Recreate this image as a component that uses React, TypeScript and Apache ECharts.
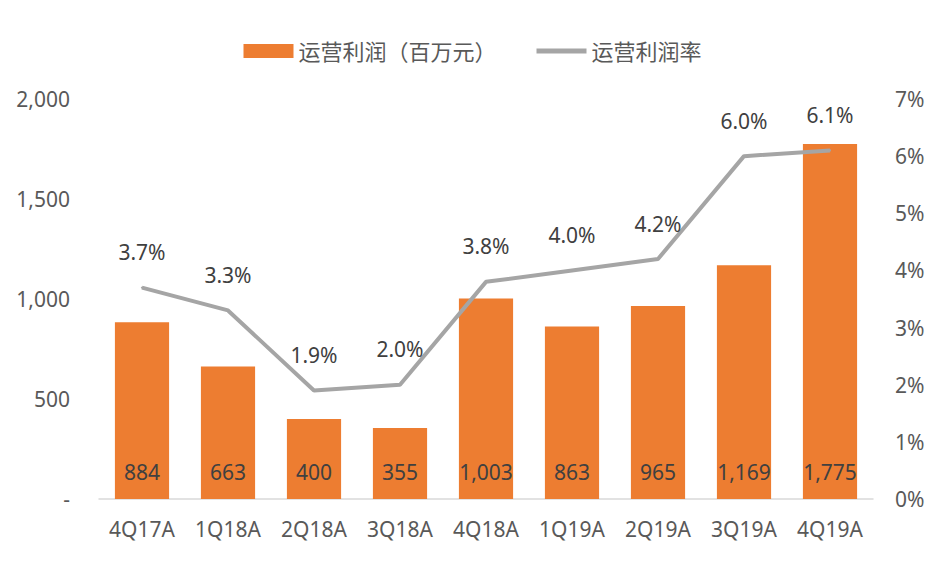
import React, { useEffect, useRef } from "react";
import * as echarts from "echarts";

const categories = ["4Q17A", "1Q18A", "2Q18A", "3Q18A", "4Q18A", "1Q19A", "2Q19A", "3Q19A", "4Q19A"];
const profit = [884, 663, 400, 355, 1003, 863, 965, 1169, 1775];
const margin = [3.7, 3.3, 1.9, 2.0, 3.8, 4.0, 4.2, 6.0, 6.1];
const barName = "运营利润（百万元）";
const lineName = "运营利润率";

const FONT = "'Noto Sans', 'Noto Sans CJK SC', sans-serif";

export default function App() {
  const ref = useRef<HTMLDivElement>(null);
  useEffect(() => {
    if (!ref.current) return;
    const chart = echarts.init(ref.current, undefined, { renderer: "svg" });
    chart.setOption({
      animation: false,
      backgroundColor: "#ffffff",
      textStyle: { fontFamily: FONT },
      legend: {
        top: 35,
        left: "center",
        itemWidth: 50,
        itemHeight: 14,
        itemGap: 40,
        textStyle: { fontSize: 22, color: "#595959", fontFamily: FONT },
        data: [
          { name: barName, icon: "rect" },
          { name: lineName, icon: "path://M0 0H50V5H0Z", itemStyle: { color: "#A5A5A5", opacity: 1 } },
        ],
      },
      grid: { left: 99, right: 72, top: 99, bottom: 75, containLabel: false },
      xAxis: {
        type: "category",
        data: categories,
        axisLine: { lineStyle: { color: "#d9d9d9", width: 1.5 } },
        axisTick: { show: false },
        axisLabel: { fontSize: 21, color: "#595959", margin: 19, fontFamily: FONT },
      },
      yAxis: [
        {
          type: "value",
          min: 0,
          max: 2000,
          interval: 500,
          splitLine: { show: false },
          axisLine: { show: false },
          axisTick: { show: false },
          axisLabel: {
            fontSize: 21,
            color: "#595959",
            margin: 29,
            fontFamily: FONT,
            formatter: (v: number) => (v === 0 ? "-" : v.toLocaleString("en-US")),
          },
        },
        {
          type: "value",
          min: 0,
          max: 7,
          interval: 1,
          splitLine: { show: false },
          axisLine: { show: false },
          axisTick: { show: false },
          axisLabel: {
            fontSize: 21,
            color: "#595959",
            margin: 22,
            fontFamily: FONT,
            formatter: (v: number) => v + "%",
          },
        },
      ],
      series: [
        {
          name: barName,
          type: "bar",
          data: profit,
          barWidth: "63%",
          itemStyle: { color: "#ED7D31" },
          label: {
            show: true,
            position: "insideBottom",
            distance: 17,
            fontSize: 21,
            color: "#404040",
            fontFamily: FONT,
            formatter: (p: any) => Number(p.value).toLocaleString("en-US"),
          },
        },
        {
          name: lineName,
          type: "line",
          yAxisIndex: 1,
          data: margin,
          symbol: "circle",
          symbolSize: 2,
          showSymbol: true,
          lineStyle: { color: "#A5A5A5", width: 4 },
          itemStyle: { color: "#A5A5A5" },
          label: {
            show: true,
            position: "top",
            distance: 24,
            fontSize: 21,
            color: "#404040",
            fontFamily: FONT,
            formatter: (p: any) => Number(p.value).toFixed(1) + "%",
          },
        },
      ],
    });
    return () => chart.dispose();
  }, []);
  return <div ref={ref} style={{ width: 945, height: 574, position: "absolute", left: 0, top: 0 }} />;
}
